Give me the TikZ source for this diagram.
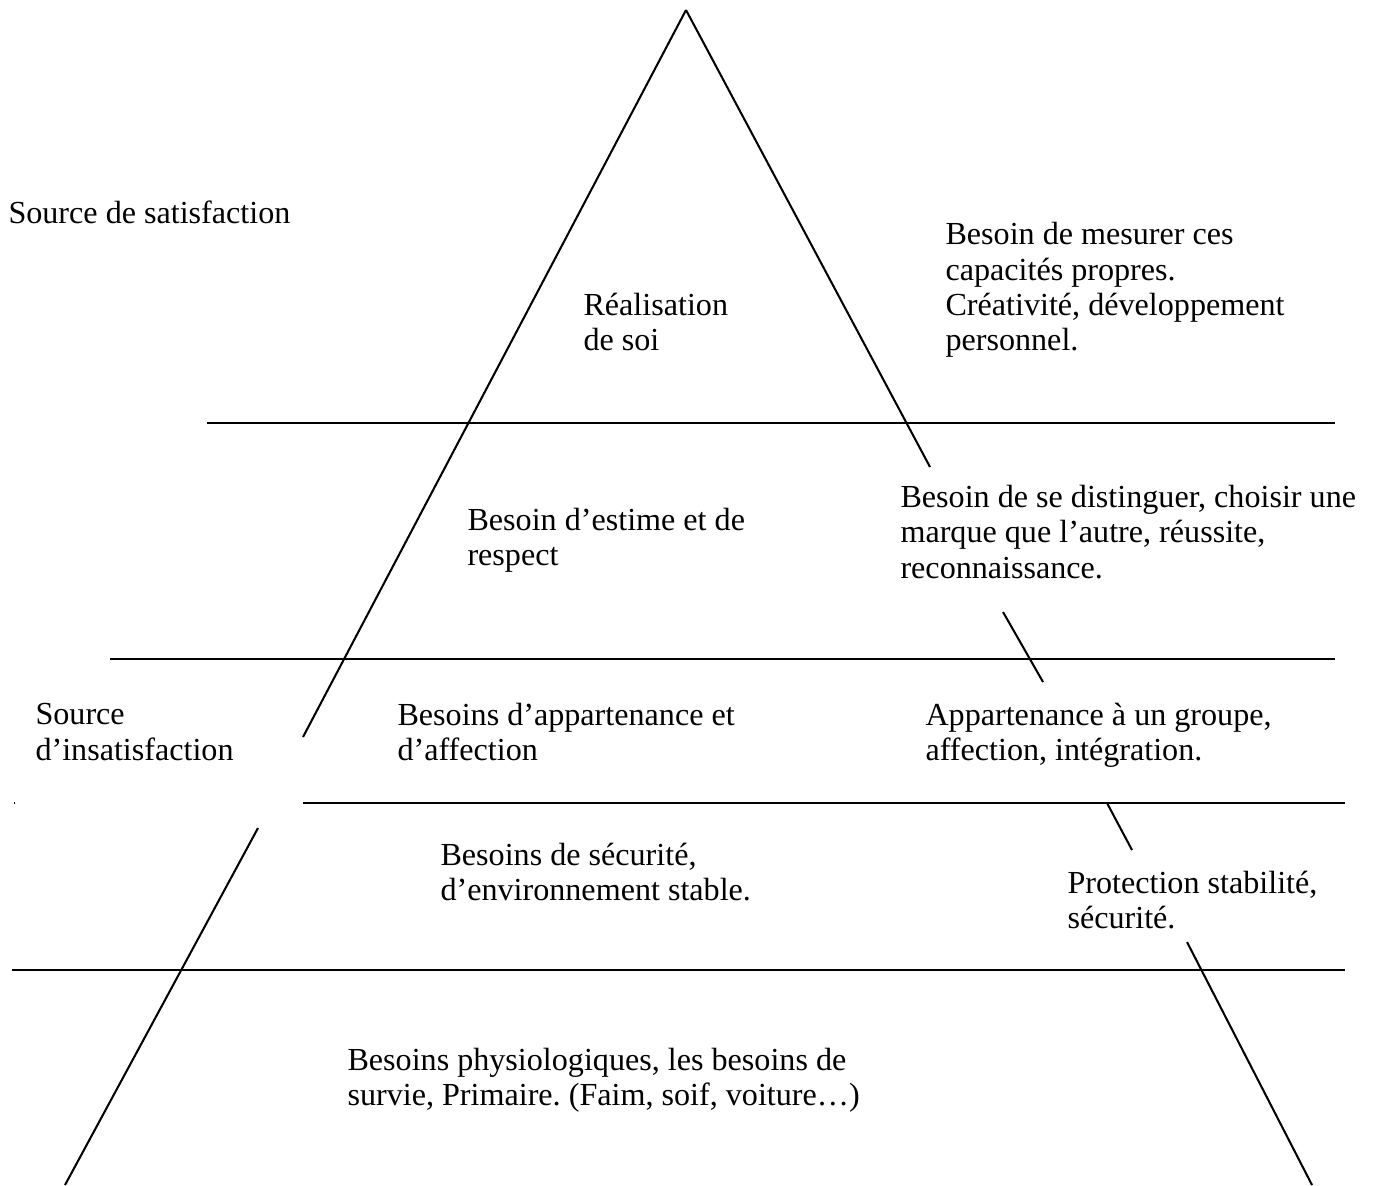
\documentclass[tikz,border=0pt]{standalone}
\usepackage{fontspec}
\setmainfont{Liberation Serif}
\begin{document}
\begin{tikzpicture}[x=0.3922pt,y=-0.3922pt,
  rule/.style={line width=0.8pt},
  thinrule/.style={line width=0.5pt},
  lbl/.style={anchor=west,align=left,inner sep=0pt,font=\fontsize{12.6}{13.8}\selectfont}]
\useasboundingbox (0,0) rectangle (1374,1185);
% pyramid sides
\coordinate (apex) at (686,10);
\draw[rule] (apex) -- (303,737);
\draw[rule] (258,828) -- (65,1185);
\draw[rule] (apex) -- (930,467);
\draw[rule] (1003,612) -- (1043,682);
\draw[rule] (1107,803) -- (1132,850);
\draw[rule] (1187,942) -- (1312,1185);
% horizontal levels
\draw[rule] (207,423) -- (1335,423);
\draw[rule] (110,659) -- (1335,659);
\draw[rule] (303,803) -- (903,803);
\draw[thinrule] (903,803) -- (1310,803);
\draw[rule] (1310,803) -- (1345,803);
\fill (14,802) rectangle (15,804);
\draw[rule] (12,970) -- (1345,970);
% labels
\node[lbl] (sat) at (8,212) {Source de satisfaction};
\node[lbl] (real) at (583,322) {Réalisation\\de soi};
\node[lbl] (mesure) at (945,290) {Besoin de mesurer ces\\capacités propres.\\Créativité, développement\\personnel.};
\node[lbl] (estime) at (467,540) {Besoin d’estime et de\\respect};
\node[lbl] (dist) at (900,532) {Besoin de se distinguer, choisir une\\marque que l’autre, réussite,\\reconnaissance.};
\node[lbl] (insat) at (35,732) {Source\\d’insatisfaction};
\node[lbl] (appart) at (397,732) {Besoins d’appartenance et\\d’affection};
\node[lbl] (groupe) at (925,735) {Appartenance à un groupe,\\affection, intégration.};
\node[lbl] (secu) at (440,872) {Besoins de sécurité,\\d’environnement stable.};
\node[lbl] (protect) at (1067,900) {Protection stabilité,\\sécurité.};
\node[lbl] (physio) at (347,1080) {Besoins physiologiques, les besoins de\\survie, Primaire.\ (Faim, soif, voiture…)};
\end{tikzpicture}
\end{document}
